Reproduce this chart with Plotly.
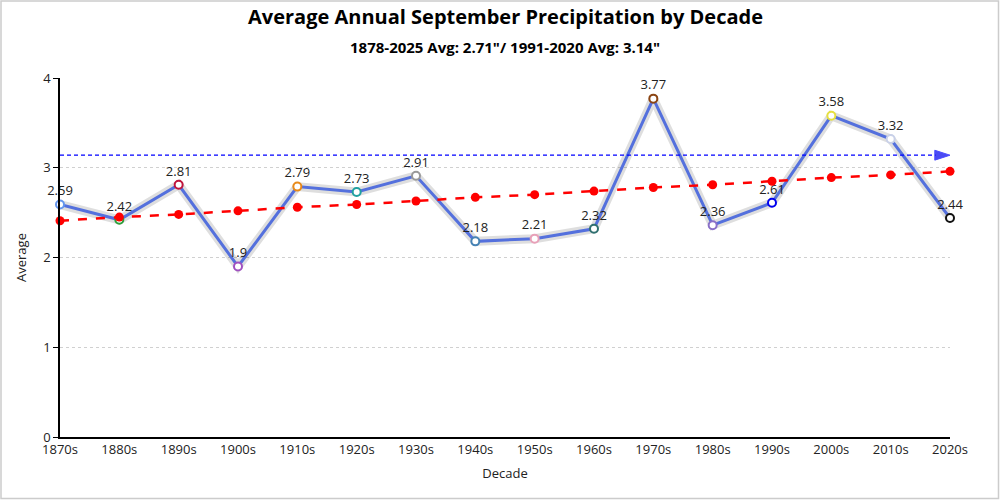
import plotly.graph_objects as go

decades = ["1870s","1880s","1890s","1900s","1910s","1920s","1930s","1940s",
           "1950s","1960s","1970s","1980s","1990s","2000s","2010s","2020s"]
averages = [2.59, 2.42, 2.81, 1.9, 2.79, 2.73, 2.91, 2.18,
            2.21, 2.32, 3.77, 2.36, 2.61, 3.58, 3.32, 2.44]
trend = [2.41, 2.45, 2.48, 2.52, 2.56, 2.59, 2.63, 2.67,
         2.70, 2.74, 2.78, 2.81, 2.85, 2.89, 2.92, 2.96]
marker_colors = ["#6495ed", "#2e9e3a", "#c0143c", "#a050c0", "#e88a1a", "#20a0a0",
                 "#999999", "#4682b4", "#e8a0b8", "#2f6f6f", "#8b4513", "#8a70c8",
                 "#0000ee", "#e6e040", "#c8d0e8", "#111111"]
normal_avg = 3.14
long_avg = 2.71

FONT = "Open Sans, Noto Sans, sans-serif"

L, R, T, B = 60, 50, 78, 63
W, H = 1000, 500
plot_w = W - L - R
plot_h = H - T - B

fig = go.Figure()

# soft shadow under the main line
fig.add_trace(go.Scatter(
    x=decades, y=averages, mode="lines",
    line=dict(color="rgba(0,0,0,0.13)", width=9),
    hoverinfo="skip", showlegend=False, cliponaxis=False))

fig.add_trace(go.Scatter(
    x=decades, y=averages, mode="lines+markers+text",
    line=dict(color="#5470dd", width=3),
    marker=dict(size=8, color="white", line=dict(color=marker_colors, width=2)),
    text=[f"{v:g}" for v in averages], textposition="top center",
    textfont=dict(size=13, color="#222", family=FONT),
    showlegend=False, cliponaxis=False))

fig.add_trace(go.Scatter(
    x=decades, y=trend, mode="lines+markers",
    line=dict(color="#ff0000", width=2.5, dash="dash"),
    marker=dict(size=9, color="#ff0000"),
    showlegend=False, cliponaxis=False))

fig.add_trace(go.Scatter(
    x=[decades[0], decades[-1]], y=[normal_avg, normal_avg], mode="lines+markers",
    line=dict(color="#0000ff", width=1.2, dash="4px,3px"),
    marker=dict(size=[9, 16], color="#0000ee", symbol=["circle", "arrow"],
                angleref="previous"),
    showlegend=False, cliponaxis=False))

fig.update_layout(
    width=W, height=H,
    margin=dict(l=L, r=R, t=T, b=B),
    paper_bgcolor="white", plot_bgcolor="white",
    font=dict(family=FONT, size=13, color="#222"),
    xaxis=dict(
        type="category", range=[0, len(decades) - 1],
        showline=True, linecolor="black", linewidth=1.5,
        ticks="", showgrid=False, tickfont=dict(size=13),
        title=dict(text="Decade", font=dict(size=13), standoff=12)),
    yaxis=dict(
        range=[0, 4], tickvals=[0, 1, 2, 3, 4],
        showline=True, linecolor="black", linewidth=1.5,
        ticks="outside", ticklen=5, tickcolor="black",
        showgrid=True, gridcolor="#d0d0d0", griddash="dot", gridwidth=1,
        zeroline=False, tickfont=dict(size=13),
        title=dict(text="Average", font=dict(size=13), standoff=14)),
    annotations=[
        dict(text="<b>Average Annual September Precipitation by Decade</b>",
             x=0.5, y=1 + (T - 17) / plot_h, xref="paper", yref="paper",
             yanchor="middle", showarrow=False,
             font=dict(size=20, color="black")),
        dict(text=f"<b>1878-2025 Avg: {long_avg}\"/ 1991-2020 Avg: {normal_avg}\"</b>",
             x=0.5, y=1 + (T - 47) / plot_h, xref="paper", yref="paper",
             yanchor="middle", showarrow=False,
             font=dict(size=15, color="black")),
    ],
    shapes=[dict(type="rect", xref="paper", yref="paper",
                 x0=-(L - 1) / plot_w, x1=1 + (R - 1.5) / plot_w,
                 y0=-(B - 1.5) / plot_h, y1=1 + (T - 1) / plot_h,
                 line=dict(color="#cccccc", width=1.5))],
)

fig.write_html("out.html", config={"displayModeBar": False},
               post_script="document.body.style.margin='0';")
